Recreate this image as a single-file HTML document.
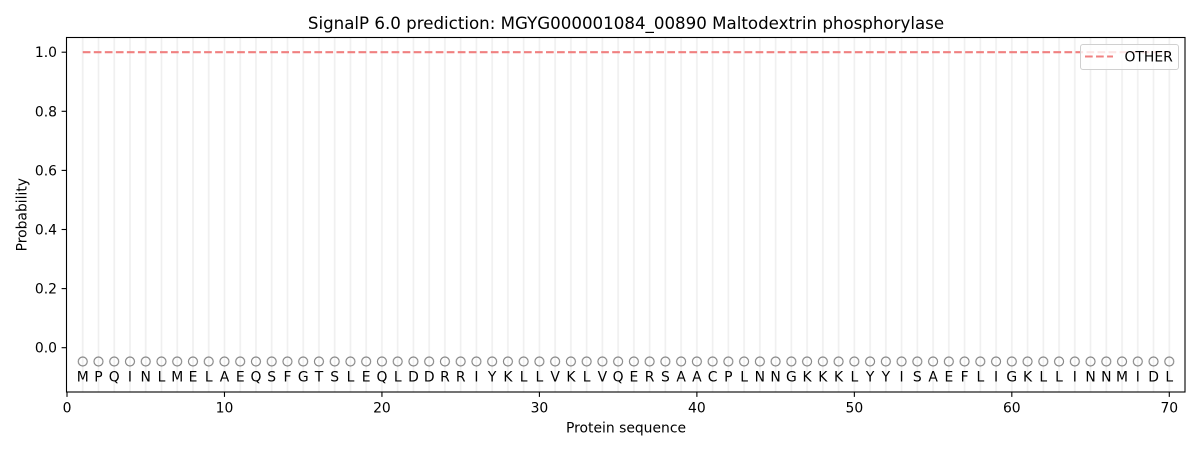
<!DOCTYPE html>
<html>
<head>
<meta charset="utf-8">
<style>
html,body{margin:0;padding:0;background:#fff;}
svg{display:block;}
text{font-family:"DejaVu Sans","Liberation Sans",sans-serif;fill:#000;}
</style>
</head>
<body>
<svg width="1200" height="450" viewBox="0 0 1200 450" xmlns="http://www.w3.org/2000/svg">
<defs>
<pattern id="grid" patternUnits="userSpaceOnUse" x="74.87" y="0" width="15.747" height="450">
<line x1="7.87" y1="0" x2="7.87" y2="450" stroke="#efefef" stroke-width="1.6"/>
</pattern>
<pattern id="circ" patternUnits="userSpaceOnUse" x="74.87" y="0" width="15.747" height="450">
<circle cx="7.87" cy="361.5" r="4.5" fill="none" stroke="#858585" stroke-width="1.15"/>
</pattern>
</defs>
<rect width="1200" height="450" fill="#fff"/>
<rect x="75" y="37.5" width="1102" height="354.5" fill="url(#grid)"/>
<rect x="75" y="350" width="1102" height="25" fill="url(#circ)"/>
<line x1="82.75" y1="52.2" x2="1169.29" y2="52.2" stroke="#f08080" stroke-width="2.08" stroke-dasharray="7.7 3.33"/>
<text y="381.5" font-size="13.9" text-anchor="middle" x="82.75 98.49 114.24 129.99 145.74 161.48 177.23 192.98 208.72 224.47 240.22 255.96 271.71 287.46 303.21 318.95 334.70 350.45 366.19 381.94 397.69 413.43 429.18 444.93 460.68 476.42 492.17 507.92 523.66 539.41 555.16 570.90 586.65 602.40 618.15 633.89 649.64 665.39 681.13 696.88 712.63 728.37 744.12 759.87 775.62 791.36 807.11 822.86 838.60 854.35 870.10 885.84 901.59 917.34 933.09 948.83 964.58 980.33 996.07 1011.82 1027.57 1043.31 1059.06 1074.81 1090.56 1106.30 1122.05 1137.80 1153.54 1169.29">MPQINLMELAEQSFGTSLEQLDDRRIYKLLVKLVQERSAACPLNNGKKKLYYISAEFLIGKLLINNMIDL</text>
<rect x="66.5" y="37.5" width="1118.5" height="354.5" fill="none" stroke="#000" stroke-width="1.1"/>
<g stroke="#000" stroke-width="1.1">
<line x1="61.6" y1="52.2" x2="66.5" y2="52.2"/>
<line x1="61.6" y1="111.3" x2="66.5" y2="111.3"/>
<line x1="61.6" y1="170.4" x2="66.5" y2="170.4"/>
<line x1="61.6" y1="229.5" x2="66.5" y2="229.5"/>
<line x1="61.6" y1="288.6" x2="66.5" y2="288.6"/>
<line x1="61.6" y1="347.7" x2="66.5" y2="347.7"/>
</g>
<g font-size="13.9" text-anchor="end">
<text x="57" y="57.2">1.0</text>
<text x="57" y="116.3">0.8</text>
<text x="57" y="175.4">0.6</text>
<text x="57" y="234.5">0.4</text>
<text x="57" y="293.6">0.2</text>
<text x="57" y="352.7">0.0</text>
</g>
<g stroke="#000" stroke-width="1.1">
<line x1="67" y1="392" x2="67" y2="396.9"/>
<line x1="224.47" y1="392" x2="224.47" y2="396.9"/>
<line x1="381.94" y1="392" x2="381.94" y2="396.9"/>
<line x1="539.41" y1="392" x2="539.41" y2="396.9"/>
<line x1="696.88" y1="392" x2="696.88" y2="396.9"/>
<line x1="854.35" y1="392" x2="854.35" y2="396.9"/>
<line x1="1011.82" y1="392" x2="1011.82" y2="396.9"/>
<line x1="1169.29" y1="392" x2="1169.29" y2="396.9"/>
</g>
<g font-size="13.9" text-anchor="middle">
<text x="67" y="412.3">0</text>
<text x="224.47" y="412.3">10</text>
<text x="381.94" y="412.3">20</text>
<text x="539.41" y="412.3">30</text>
<text x="696.88" y="412.3">40</text>
<text x="854.35" y="412.3">50</text>
<text x="1011.82" y="412.3">60</text>
<text x="1169.29" y="412.3">70</text>
</g>
<text x="626" y="432.3" font-size="13.9" text-anchor="middle">Protein sequence</text>
<text x="0" y="0" font-size="13.9" text-anchor="middle" transform="translate(26.5,214.7) rotate(-90)">Probability</text>
<text x="626" y="29" font-size="16.67" text-anchor="middle">SignalP 6.0 prediction: MGYG000001084_00890 Maltodextrin phosphorylase</text>
<rect x="1080.5" y="44.5" width="98" height="25" rx="2.5" ry="2.5" fill="#fff" fill-opacity="0.8" stroke="#d0d0d0" stroke-width="1"/>
<line x1="1085" y1="56.5" x2="1113" y2="56.5" stroke="#f08080" stroke-width="2.08" stroke-dasharray="7.7 3.33"/>
<text x="1124.5" y="61.5" font-size="13.9">OTHER</text>
</svg>
</body>
</html>
